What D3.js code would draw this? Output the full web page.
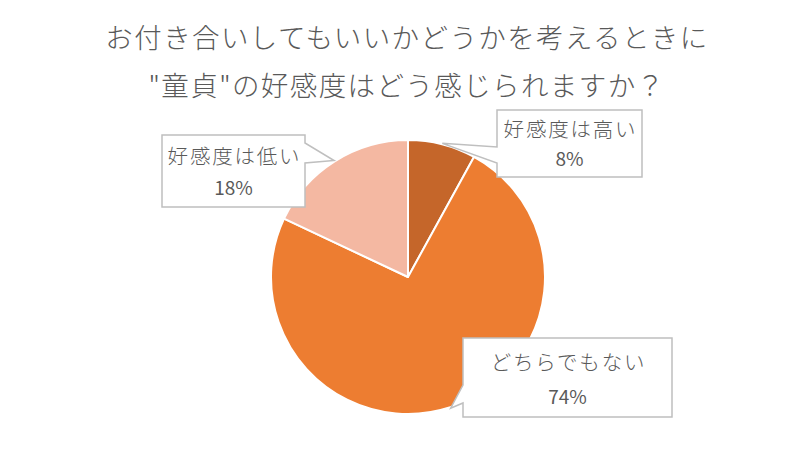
<!DOCTYPE html>
<html><head><meta charset="utf-8">
<script src="https://cdn.jsdelivr.net/npm/d3@7"></script>
<style>
html,body{margin:0;padding:0;background:#fff;}
svg{display:block;}
</style></head>
<body>
<svg id="chart" width="810" height="449"></svg>
<script>
const titleLines = ["お付き合いしてもいいかどうかを考えるときに", "\"童貞\"の好感度はどう感じられますか？"];
const categories = ["好感度は高い", "どちらでもない", "好感度は低い"];
const values = [8, 74, 18];
const colors = ["#C5662A", "#ED7D31", "#F4B8A2"];

// callout box layout (x, y, w, h) and side the pointer attaches to
const boxes = [
  {x: 497, y: 110, w: 145, h: 67, side: "left", b0: 147, b1: 163},
  {x: 463, y: 338, w: 209, h: 79, side: "left", b0: 385, b1: 403},
  {x: 162, y: 135, w: 143, h: 72, side: "right", b0: 143, b1: 163}
];

const svg = d3.select("#chart");
const font = "'Noto Sans CJK JP', 'Noto Sans', sans-serif";
const cx = 408, cy = 277, r = 137;

svg.append("g").selectAll("text").data(titleLines).join("text")
  .attr("x", 407).attr("y", (d, i) => 48 + i * 48)
  .attr("text-anchor", "middle")
  .attr("font-family", font).attr("font-size", 27.5).attr("font-weight", 300)
  .attr("letter-spacing", 1.4)
  .attr("fill", "#595959").text(d => d);

const pie = d3.pie().sort(null).value(d => d)(values);
const arc = d3.arc().innerRadius(0).outerRadius(r);
const g = svg.append("g").attr("transform", `translate(${cx},${cy})`);
g.selectAll("path").data(pie).join("path")
  .attr("d", arc).attr("fill", (d, i) => colors[i])
  .attr("stroke", "#fff").attr("stroke-width", 2).attr("stroke-linejoin", "round");

// callouts
pie.forEach((p, i) => {
  const b = boxes[i];
  const a = (p.startAngle + p.endAngle) / 2;
  const tx = cx + Math.sin(a) * (r + 1), ty = cy - Math.cos(a) * (r + 1);
  let pts;
  if (b.side === "left") {
    pts = [[b.x, b.y], [b.x + b.w, b.y], [b.x + b.w, b.y + b.h], [b.x, b.y + b.h],
           [b.x, b.b1], [tx, ty], [b.x, b.b0]];
  } else {
    pts = [[b.x, b.y], [b.x + b.w, b.y], [b.x + b.w, b.b0], [tx, ty], [b.x + b.w, b.b1],
           [b.x + b.w, b.y + b.h], [b.x, b.y + b.h]];
  }
  svg.append("path").attr("d", d3.line()(pts) + "Z")
    .attr("fill", "#fff").attr("stroke", "#BFBFBF").attr("stroke-width", 1.5);
  const mx = b.x + b.w / 2;
  svg.append("text").attr("x", mx + 1).attr("y", b.y + b.h * 0.40)
    .attr("text-anchor", "middle").attr("font-family", font).attr("font-size", 20.5)
    .attr("font-weight", 300).attr("letter-spacing", 1.8)
    .attr("fill", "#595959").text(categories[i]);
  svg.append("text").attr("x", mx).attr("y", b.y + b.h * 0.84)
    .attr("text-anchor", "middle").attr("font-family", font).attr("font-size", 19)
    .attr("fill", "#595959").text(values[i] + "%");
});
</script>
</body></html>
